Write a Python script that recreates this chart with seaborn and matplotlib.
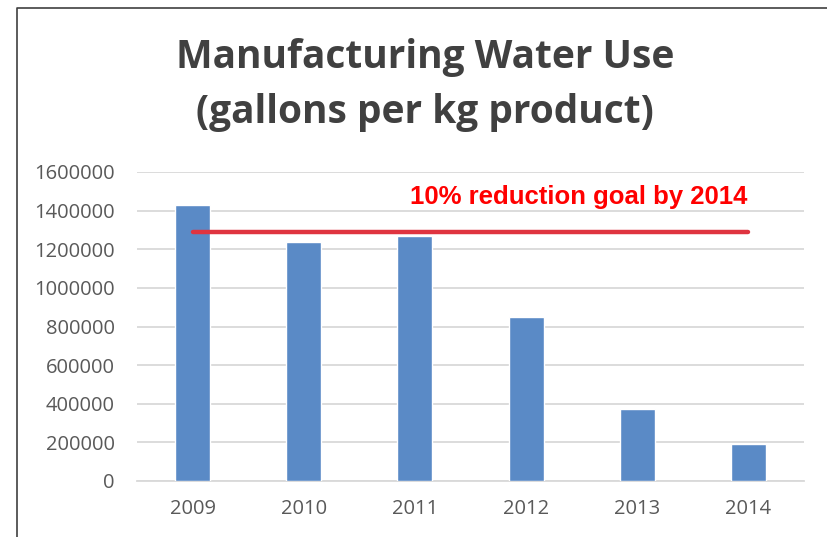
import matplotlib
matplotlib.use("Agg")
import matplotlib.pyplot as plt
from matplotlib.lines import Line2D
import seaborn as sns
import pandas as pd

# Annual manufacturing water use (gallons per kg product)
years = ["2009", "2010", "2011", "2012", "2013", "2014"]
water_use = [1430000, 1235000, 1270000, 850000, 371000, 190000]
goal_value = 1287000
goal_label = "10% reduction goal by 2014"
title_lines = ["Manufacturing Water Use", "(gallons per kg product)"]
y_ticks = [0, 200000, 400000, 600000, 800000, 1000000, 1200000, 1400000, 1600000]

df = pd.DataFrame({"year": years, "use": water_use})

sns.set_theme(style="white")
plt.rcParams["font.family"] = ["Open Sans", "DejaVu Sans"]

W, H = 828, 537
fig = plt.figure(figsize=(W / 100, H / 100), dpi=100)
fig.patch.set_facecolor("white")

ax = fig.add_axes([137 / W, 1 - 481 / H, 667 / W, 309 / H])
sns.barplot(data=df, x="year", y="use", color="#5A8AC6", saturation=1,
            width=0.315, ax=ax, zorder=3)

ax.set_xlim(-0.5, len(years) - 0.5)
ax.set_ylim(0, y_ticks[-1])
ax.set_yticks(y_ticks)
ax.set_yticklabels([str(v) for v in y_ticks])
ax.set_xlabel("")
ax.set_ylabel("")
ax.yaxis.grid(True, color="#D9D9D9", linewidth=1.3, zorder=0)
ax.set_axisbelow(True)
for s in ["top", "right", "left"]:
    ax.spines[s].set_visible(False)
ax.spines["bottom"].set_color("#D9D9D9")
ax.spines["bottom"].set_linewidth(1.3)
ax.tick_params(axis="both", length=0, labelsize=14.5, labelcolor="#595959")
ax.tick_params(axis="y", pad=16)
ax.tick_params(axis="x", pad=13)

# Goal line spanning the first to the last year
ax.plot([0, len(years) - 1], [goal_value, goal_value], color="#DF3440",
        linewidth=3.2, solid_capstyle="round", zorder=4)
ax.text(3.47, 1468000, goal_label, color="#FF0000", fontsize=18.5,
        fontweight="bold", family=["Liberation Sans Narrow", "Liberation Sans", "DejaVu Sans"],
        ha="center", va="center", zorder=5)

# Title
fig.text(425 / W, 1 - 57 / H, title_lines[0], ha="center", va="center",
         fontsize=28, fontweight="bold", color="#404040")
fig.text(425 / W, 1 - 113 / H, title_lines[1], ha="center", va="center",
         fontsize=28, fontweight="bold", color="#404040")

# Frame edge along the left and top
fx = 17 / W
fy = 1 - 7.5 / H
fig.add_artist(Line2D([fx, fx, 1.0], [0.0, fy, fy], transform=fig.transFigure,
                      color="#404040", linewidth=1.2))

fig.savefig("out.png", dpi=100)
